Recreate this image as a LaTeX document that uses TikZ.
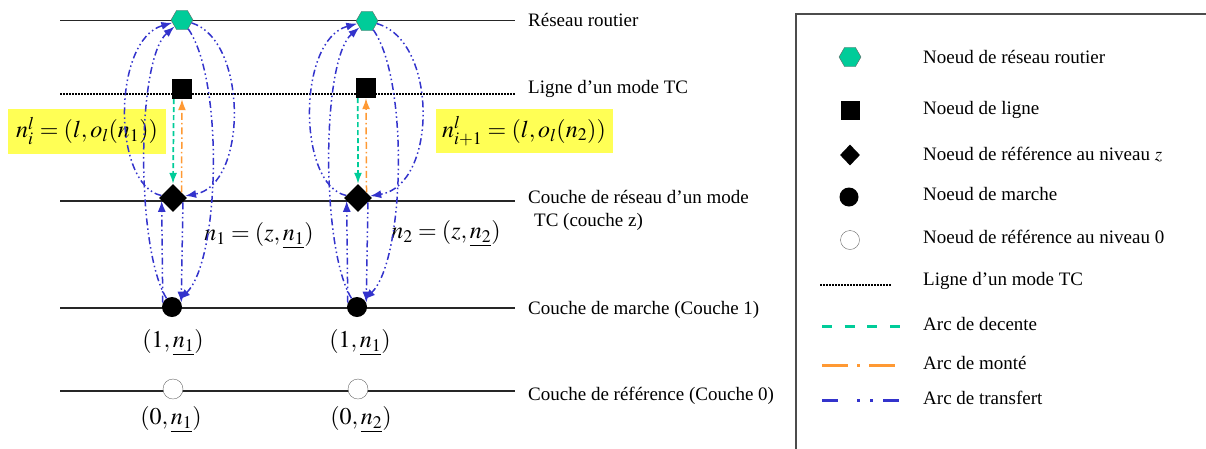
\documentclass[tikz,border=0pt]{standalone}
\usepackage{mathptmx}
\usepackage{fontspec}
\setmainfont{Liberation Serif}
\usetikzlibrary{shapes,arrows,arrows.meta,positioning,calc}

\definecolor{roadgreen}{RGB}{0,204,153}
\definecolor{boardorange}{RGB}{255,153,51}
\definecolor{transfblue}{RGB}{51,51,204}
\definecolor{hlyellow}{RGB}{255,255,85}

\begin{document}
\begin{tikzpicture}[x=1pt, y=-1pt,
    layer/.style={line width=1.6pt, black!85},
    tcline/.style={line width=1.5pt, dash pattern=on 1.5pt off 1.5pt},
    lab/.style={anchor=west, inner sep=0pt, font=\fontsize{19}{23}\selectfont, align=left},
    mathlab/.style={inner sep=0pt, font=\fontsize{24}{28}\selectfont},
    hlbox/.style={rectangle, fill=hlyellow, inner sep=0pt, font=\fontsize{24}{28}\selectfont},
    hexnode/.style={regular polygon, regular polygon sides=6, minimum size=22pt,
                    inner sep=0pt, fill=roadgreen, draw=black!60, thin},
    sqnode/.style={rectangle, minimum size=20pt, inner sep=0pt, fill=black},
    diamnode/.style={diamond, minimum width=28pt, minimum height=28pt, inner sep=0pt, fill=black},
    walknode/.style={circle, minimum size=20pt, inner sep=0pt, fill=black},
    refnode/.style={circle, minimum size=20pt, inner sep=0pt, draw=black!60, fill=white, thin},
    tip/.style={-{Latex[length=11pt,width=8pt]}},
    transfline/.style={transfblue, line width=1.5pt,
                       dash pattern=on 7pt off 3pt on 1.5pt off 3pt on 1.5pt off 3pt},
    descline/.style={roadgreen, line width=1.7pt, dash pattern=on 5pt off 3pt},
    monteline/.style={boardorange, line width=1.5pt, dash pattern=on 7pt off 3pt on 1.5pt off 3pt},
    transf/.style={transfline, tip},
    descente/.style={descline, tip},
    monte/.style={monteline, tip}
]
\useasboundingbox (0,0) rectangle (1206,448);
\clip (0,0) rectangle (1206,448);

% Couches
\draw[line width=0.8pt, black!85] (60,20) -- (515,20);
\draw[tcline] (60,94) -- (515,94);
\draw[layer] (60,201) -- (515,201);
\draw[layer] (60,308) -- (515,308);
\draw[layer] (60,391) -- (515,391);

\node[lab] (lRoad) at (528,20) {Réseau routier};
\node[lab] (lLine) at (528,89) {Ligne d’un mode TC};
\node[lab] (lZ) at (528,210) {Couche de réseau d’un mode\\\hspace*{6pt}TC (couche z)};
\node[lab] (lWalk) at (528,310) {Couche de marche (Couche 1)};
\node[lab] (lRef) at (528,396) {Couche de référence (Couche 0)};

% Etiquettes surlignees
\node[hlbox, minimum width=158pt, minimum height=45pt] (hl1) at (87,131)
    {$n_i^l=(l,o_l(n_1))$};
\node[hlbox, minimum width=177pt, minimum height=44pt] (hl2) at (524,131)
    {$n_{i+1}^l=(l,o_l(n_2))$};

% Noeuds - colonne 1
\node[hexnode] (hex1) at (182,20) {};
\node[sqnode] (sq1) at (182,89) {};
\node[diamnode] (diam1) at (173,198) {};
\node[walknode] (walk1) at (172,307) {};
\node[refnode] (ref1) at (173,389) {};

% Noeuds - colonne 2
\node[hexnode] (hex2) at (367,21) {};
\node[sqnode] (sq2) at (366,88) {};
\node[diamnode] (diam2) at (358,198) {};
\node[walknode] (walk2) at (357,307) {};
\node[refnode] (ref2) at (358,389) {};

% Etiquettes des noeuds
\node[mathlab] (zlab1) at (259,236) {$n_1=(z,\underline{n_1})$};
\node[mathlab] (zlab2) at (446,234) {$n_2=(z,\underline{n_2})$};
\node[mathlab] (wlab1) at (173,343) {$(1,\underline{n_1})$};
\node[mathlab] (wlab2) at (360,343) {$(1,\underline{n_1})$};
\node[mathlab] (rlab1) at (171,420) {$(0,\underline{n_1})$};
\node[mathlab] (rlab2) at (361,420) {$(0,\underline{n_2})$};

% Arcs - colonne 1
\draw[descente] ($(sq1.south west)+(2,0)$) -- (diam1.north);
\draw[monte] ($(diam1.north)!0.6!(diam1.east)$) -- (sq1.south);
\draw[transf] (diam1) .. controls (112,185) and (112,40) .. (hex1);
\draw[transf] (walk1) .. controls (136,250) and (136,60) .. (hex1);
\draw[transf] (hex1) .. controls (248,40) and (248,185) .. (diam1);
\draw[transf] (hex1) .. controls (224,80) and (220,260) .. (walk1);
\draw[transf] (walk1.155) -- ($(diam1.west)!0.2!(diam1.south)$);
\draw[transf] ($(diam1.east)!0.3!(diam1.south)$) -- (walk1.25);

% Arcs - colonne 2
\draw[descente] ($(sq2.south west)+(2,0)$) -- (diam2.north);
\draw[monte] ($(diam2.north)!0.6!(diam2.east)$) -- (sq2.south);
\draw[transf] (diam2) .. controls (297,185) and (297,40) .. (hex2);
\draw[transf] (walk2) .. controls (321,250) and (321,60) .. (hex2);
\draw[transf] (hex2) .. controls (438,40) and (438,185) .. (diam2);
\draw[transf] (hex2) .. controls (409,80) and (405,260) .. (walk2);
\draw[transf] (walk2.155) -- ($(diam2.west)!0.2!(diam2.south)$);
\draw[transf] ($(diam2.east)!0.3!(diam2.south)$) -- (walk2.25);

% Legende
\draw[line width=1.2pt, black!70] (796,14) rectangle (1230,470);
\node[hexnode] (lgHex) at (850,57) {};
\node[sqnode, minimum size=19pt] (lgSq) at (850,110) {};
\node[diamnode, minimum width=20pt, minimum height=21pt] (lgDiam) at (850,155) {};
\node[walknode, minimum size=19pt] (lgWalk) at (849,197) {};
\node[refnode, minimum size=19pt] (lgRef) at (850,240) {};
\draw[tcline] (820,285) -- (891,285);
\draw[descline, line width=3pt, dash pattern=on 10pt off 12.7pt] (822,326) -- (900,326);
\draw[monteline, line width=3pt, dash pattern=on 26pt off 9pt on 3pt off 9pt] (822,365) -- (896,365);
\draw[transfline, line width=3pt, dash pattern=on 16pt off 19pt on 3pt off 10pt on 3pt off 10pt]
    (822,400) -- (900,400);

\node[lab] (tHex) at (923,57) {Noeud de réseau routier};
\node[lab] (tSq) at (923,110) {Noeud de ligne};
\node[lab] (tDiam) at (923,155) {Noeud de référence au niveau $z$};
\node[lab] (tWalk) at (923,194) {Noeud de marche};
\node[lab] (tRef) at (923,237) {Noeud de référence au niveau 0};
\node[lab] (tLine) at (923,281) {Ligne d’un mode TC};
\node[lab] (tDesc) at (923,324) {Arc de decente};
\node[lab] (tMonte) at (923,363) {Arc de monté};
\node[lab] (tTransf) at (923,398) {Arc de transfert};

\end{tikzpicture}
\end{document}
